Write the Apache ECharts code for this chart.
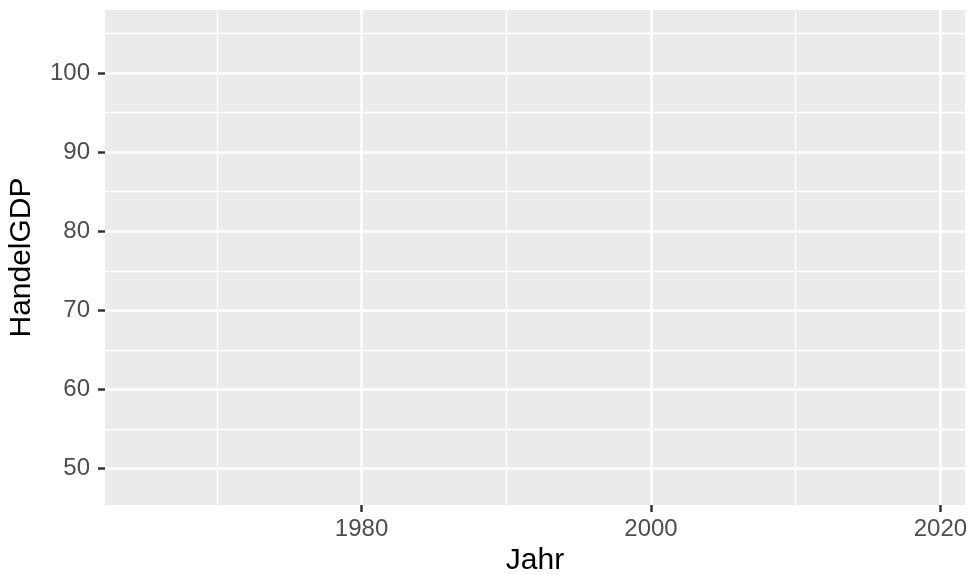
<!DOCTYPE html>
<html>
<head>
<meta charset="utf-8">
<script src="https://cdn.jsdelivr.net/npm/echarts@6/dist/echarts.min.js"></script>
<style>html,body{margin:0;padding:0;background:#fff}#c{width:970px;height:575px}</style>
</head>
<body>
<div id="c"></div>
<script>
// Data (the reference panel is empty: no observations drawn)
const jahr = [];
const handelGDP = [];
// Axis ticks
const xMajorTicks = [1980, 2000, 2020];
const xMinorTicks = [1970, 1990, 2010];
const yMajorTicks = [50, 60, 70, 80, 90, 100];
const yMinorTicks = [55, 65, 75, 85, 95, 105];
const xRange = [1962.27, 2021.7];
const yRange = [45.41, 107.96];

const seriesData = jahr.map((j, i) => [j, handelGDP[i]]);
const font = 'Liberation Sans, Arial, sans-serif';
const plain = v => String(Math.round(v));

const chart = echarts.init(document.getElementById('c'), null, {renderer: 'canvas'});
chart.setOption({
  animation: false,
  backgroundColor: '#ffffff',
  grid: {
    left: 105, right: 5, top: 10, bottom: 70,
    show: true, backgroundColor: '#EBEBEB', borderWidth: 0,
    containLabel: false, outerBoundsMode: 'none'
  },
  xAxis: [
    {
      type: 'value', min: xRange[0], max: xRange[1], position: 'bottom',
      axisLine: {show: false},
      axisTick: {show: false, customValues: xMinorTicks},
      axisLabel: {show: false, customValues: xMinorTicks},
      splitLine: {show: true, lineStyle: {color: '#ffffff', width: 1.3}}
    },
    {
      type: 'value', min: xRange[0], max: xRange[1], position: 'bottom',
      axisLine: {show: false},
      axisTick: {show: true, customValues: xMajorTicks, length: 7, lineStyle: {color: '#333333', width: 2.5}},
      axisLabel: {customValues: xMajorTicks, formatter: plain, color: '#4D4D4D', fontSize: 24, margin: 12, fontFamily: font},
      splitLine: {show: true, lineStyle: {color: '#ffffff', width: 2.6}},
      name: 'Jahr', nameLocation: 'middle', nameGap: 40,
      nameTextStyle: {color: '#000000', fontSize: 30, fontFamily: font}
    }
  ],
  yAxis: [
    {
      type: 'value', min: yRange[0], max: yRange[1], position: 'left',
      axisLine: {show: false},
      axisTick: {show: false, customValues: yMinorTicks},
      axisLabel: {show: false, customValues: yMinorTicks},
      splitLine: {show: true, lineStyle: {color: '#ffffff', width: 1.3}}
    },
    {
      type: 'value', min: yRange[0], max: yRange[1], position: 'left',
      axisLine: {show: false},
      axisTick: {show: true, customValues: yMajorTicks, length: 7, lineStyle: {color: '#333333', width: 2.5}},
      axisLabel: {customValues: yMajorTicks, formatter: plain, color: '#4D4D4D', fontSize: 24, margin: 15, fontFamily: font},
      splitLine: {show: true, lineStyle: {color: '#ffffff', width: 2.6}},
      name: 'HandelGDP', nameLocation: 'middle', nameGap: 68,
      nameTextStyle: {color: '#000000', fontSize: 30, fontFamily: font}
    }
  ],
  series: [
    {type: 'line', xAxisIndex: 1, yAxisIndex: 1, data: seriesData, showSymbol: false}
  ]
});
</script>
</body>
</html>
